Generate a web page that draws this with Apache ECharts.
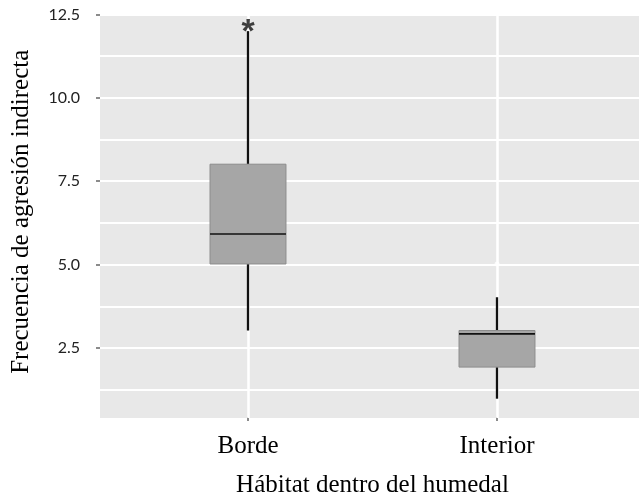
<!DOCTYPE html>
<html>
<head>
<meta charset="utf-8">
<script src="https://cdn.jsdelivr.net/npm/echarts@6/dist/echarts.min.js"></script>
<style>
html,body{margin:0;padding:0;background:#fff;}
#chart{width:639px;height:503px;}
</style>
</head>
<body>
<div id="chart"></div>
<script>
// ---- data ----
const categories = ['Borde', 'Interior'];
const whiskerLow  = [3.0, 0.95];
const q1          = [5.0, 1.9];
const median      = [5.9, 2.9];
const q3          = [8.0, 3.0];
const whiskerHigh = [12.0, 4.0];
const markerStar  = [['Borde', 12.2]];     // asterisk above Borde whisker
const lightPoint  = [['Interior', 5.0]];   // faint point at Interior
const yTickLabels = [2.5, 5.0, 7.5, 10.0, 12.5];

const yTitle = 'Frecuencia de agresión indirecta';
const xTitle = 'Hábitat dentro del humedal';

const boxData = categories.map((c, i) => [i, whiskerLow[i], q1[i], median[i], q3[i], whiskerHigh[i]]);

const chart = echarts.init(document.getElementById('chart'), null, {renderer: 'canvas'});

const PANEL_TOP = 14.5, PANEL_H = 403.5;
const Y_MIN = 0.4, Y_MAX = 12.5;
const pxPerUnit = PANEL_H / (Y_MAX - Y_MIN);

function renderBox(params, api) {
  const x = api.value(0);
  const lo = api.coord([x, api.value(1)]);
  const a = api.coord([x, api.value(2)]);
  const m = api.coord([x, api.value(3)]);
  const b = api.coord([x, api.value(4)]);
  const hi = api.coord([x, api.value(5)]);
  const bw = api.size([1, 0])[0] * 0.305;
  const cx = lo[0];
  return {
    type: 'group',
    children: [
      {type: 'line', shape: {x1: cx, y1: lo[1], x2: cx, y2: a[1]}, style: {stroke: '#111', lineWidth: 2.3}},
      {type: 'line', shape: {x1: cx, y1: b[1], x2: cx, y2: hi[1]}, style: {stroke: '#111', lineWidth: 2.3}},
      {type: 'rect', shape: {x: cx - bw / 2, y: b[1], width: bw, height: a[1] - b[1]},
        style: {fill: '#a6a6a6', stroke: '#8c8c8c', lineWidth: 1}},
      {type: 'line', shape: {x1: cx - bw / 2, y1: m[1], x2: cx + bw / 2, y2: m[1]}, style: {stroke: '#111', lineWidth: 1.6}}
    ]
  };
}

const option = {
  animation: false,
  backgroundColor: '#ffffff',
  grid: [
    // 0: panel background + horizontal grid lines
    {left: 100, top: PANEL_TOP, width: 547, height: PANEL_H, show: true, backgroundColor: '#e8e8e8', borderWidth: 0, z: 0},
    // 1: boxes and category axis
    {left: 123.5, top: PANEL_TOP, width: 498, height: PANEL_H, show: false},
    // 2: y tick labels / ticks (2.5 .. 12.5)
    {left: 100, top: PANEL_TOP, width: 547, height: (Y_MAX - 2.5) * pxPerUnit, show: false}
  ],
  xAxis: [
    {gridIndex: 0, type: 'value', min: 0, max: 1, show: false},
    {gridIndex: 1, type: 'category', data: categories, position: 'bottom', z: 1,
      axisLine: {show: false},
      axisTick: {show: true, alignWithLabel: true, length: 4, lineStyle: {color: '#666', width: 1.5}},
      axisLabel: {margin: 17, color: '#000', fontFamily: 'Liberation Serif', fontSize: 25},
      splitLine: {show: false},
      name: xTitle, nameLocation: 'middle', nameGap: 56,
      nameTextStyle: {color: '#000', fontFamily: 'Liberation Serif', fontSize: 25}
    },
    {gridIndex: 1, type: 'category', data: categories, position: 'top', z: 1,
      axisLine: {show: false},
      axisTick: {show: true, inside: true, alignWithLabel: true, length: PANEL_H, lineStyle: {color: '#ffffff', width: 2.5}},
      axisLabel: {show: false},
      splitLine: {show: false}
    },
    {gridIndex: 2, type: 'value', min: 0, max: 1, show: false}
  ],
  yAxis: [
    {gridIndex: 0, type: 'value', min: Y_MIN, max: Y_MAX, minInterval: 1.25, maxInterval: 1.25, splitNumber: 10, z: 1,
      axisLine: {show: false}, axisTick: {show: false}, axisLabel: {show: false},
      splitLine: {show: true, showMinLine: false, lineStyle: {color: '#ffffff', width: 2}},
      name: yTitle, nameLocation: 'middle', nameGap: 66, nameRotate: 90,
      nameTextStyle: {color: '#000', fontFamily: 'Liberation Serif', fontSize: 25, padding: [0, 0, 0, 9]}
    },
    {gridIndex: 1, type: 'value', min: Y_MIN, max: Y_MAX, show: false},
    {gridIndex: 2, type: 'value', min: yTickLabels[0], max: yTickLabels[yTickLabels.length - 1], interval: 2.5, z: 1,
      axisLine: {show: false},
      axisTick: {show: true, length: 4, lineStyle: {color: '#666', width: 1.5}},
      axisLabel: {margin: 20, color: '#222', fontFamily: 'Lato', fontSize: 16,
        formatter: v => Number(v).toFixed(1)},
      splitLine: {show: false}
    }
  ],
  series: [
    {type: 'custom', xAxisIndex: 1, yAxisIndex: 1, z: 5, renderItem: renderBox, data: boxData,
      encode: {x: 0, y: [1, 2, 3, 4, 5]}},
    {type: 'scatter', xAxisIndex: 1, yAxisIndex: 1, z: 6, data: lightPoint, symbolSize: 5,
      itemStyle: {color: '#ffffff'}},
    {type: 'scatter', xAxisIndex: 1, yAxisIndex: 1, z: 6, data: markerStar, symbolSize: 1,
      itemStyle: {color: 'rgba(0,0,0,0)'},
      label: {show: true, position: 'inside', formatter: '*', color: '#111', fontFamily: 'Liberation Sans',
        fontSize: 34, fontWeight: 'bold', offset: [0, 8]}}
  ]
};
chart.setOption(option);
</script>
</body>
</html>
